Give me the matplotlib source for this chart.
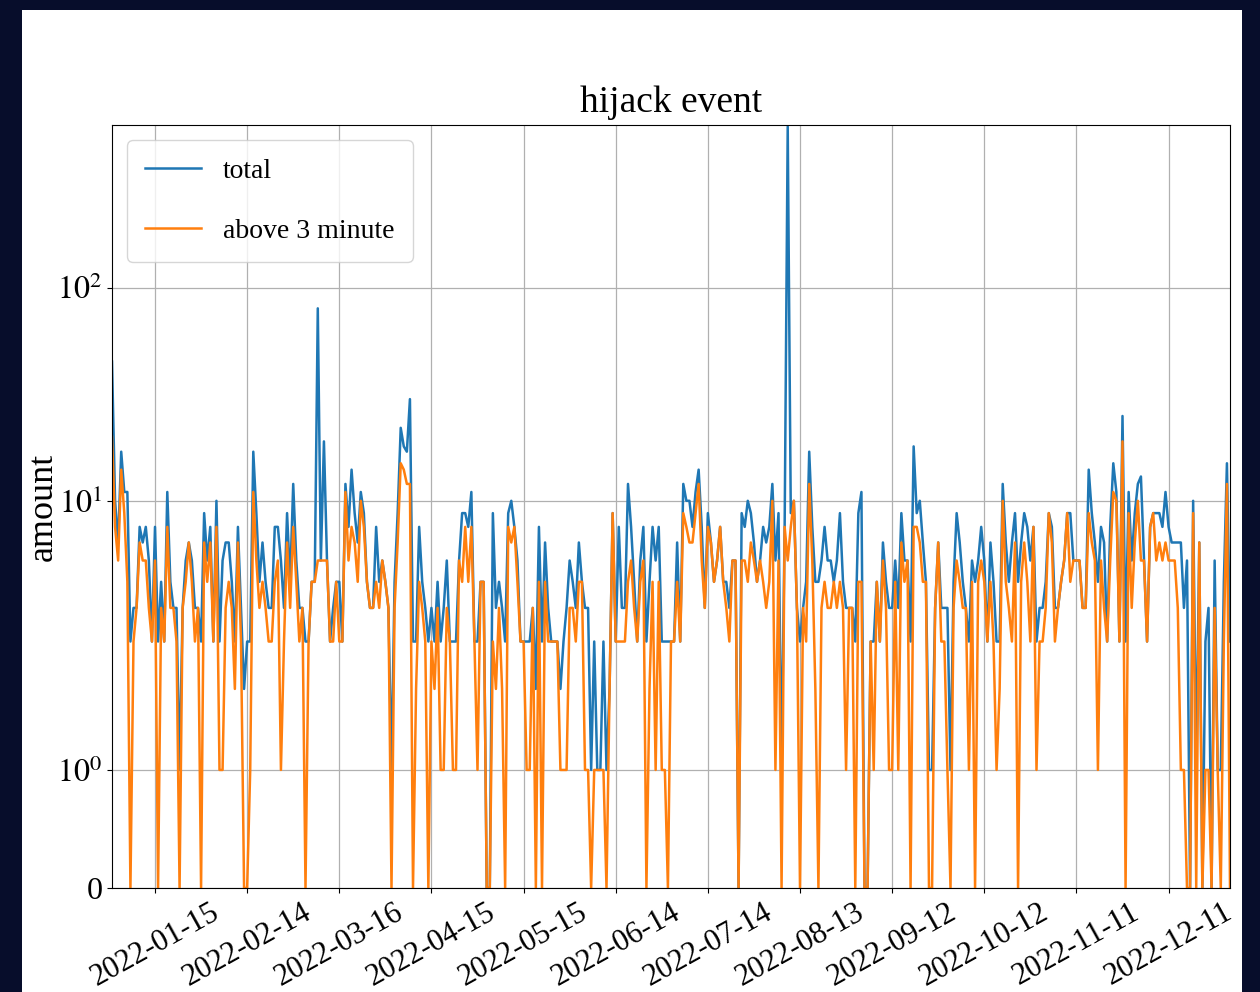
import numpy as np
import pandas as pd
import matplotlib
matplotlib.use("Agg")
import matplotlib.pyplot as plt
import matplotlib.dates as mdates
from matplotlib.patches import Rectangle
from matplotlib.ticker import NullLocator, FixedLocator, FixedFormatter

plt.rcParams["font.family"] = ["Liberation Serif", "DejaVu Serif"]
plt.rcParams["mathtext.fontset"] = "stix"
plt.rcParams["font.size"] = 22

# daily hijack event counts for 2022
start_date = "2022-01-01"

total = [
    45, 10, 7, 17, 11, 11, 3, 4, 4, 8,
    7, 8, 6, 3, 8, 3, 5, 3, 11, 5,
    4, 4, 1, 4, 6, 7, 6, 4, 4, 3,
    9, 6, 8, 3, 10, 3, 6, 7, 7, 5,
    3, 8, 4, 2, 3, 3, 17, 9, 5, 7,
    5, 4, 4, 8, 8, 6, 4, 9, 5, 12,
    6, 4, 4, 3, 3, 5, 5, 80, 6, 19,
    6, 3, 4, 5, 5, 3, 12, 8, 14, 9,
    7, 11, 9, 5, 4, 4, 8, 5, 6, 5,
    4, 1, 5, 9, 22, 18, 17, 30, 3, 3,
    8, 5, 4, 3, 4, 3, 5, 3, 4, 6,
    3, 3, 3, 6, 9, 9, 8, 11, 3, 3,
    5, 5, 0, 0, 9, 4, 5, 4, 3, 9,
    10, 8, 6, 3, 3, 3, 3, 4, 2, 8,
    3, 7, 4, 3, 3, 3, 2, 3, 4, 6,
    5, 4, 7, 5, 4, 4, 1, 3, 1, 1,
    3, 1, 2, 9, 3, 8, 4, 4, 12, 8,
    5, 3, 6, 8, 3, 5, 8, 6, 8, 3,
    3, 3, 3, 3, 7, 3, 12, 10, 10, 8,
    11, 14, 8, 4, 9, 7, 5, 6, 8, 5,
    5, 4, 6, 6, 0, 9, 8, 10, 9, 7,
    5, 6, 8, 7, 8, 12, 6, 9, 1, 8,
    570, 9, 10, 4, 3, 4, 5, 17, 8, 5,
    5, 6, 8, 6, 6, 5, 6, 9, 5, 4,
    4, 4, 3, 9, 11, 0, 0, 3, 3, 5,
    3, 7, 5, 4, 4, 6, 4, 9, 6, 6,
    3, 18, 9, 10, 7, 5, 1, 1, 4, 7,
    4, 4, 4, 1, 5, 9, 7, 5, 4, 3,
    6, 5, 6, 8, 6, 3, 7, 5, 3, 3,
    12, 7, 5, 7, 9, 5, 7, 9, 8, 6,
    8, 3, 4, 4, 5, 9, 8, 4, 4, 5,
    6, 9, 9, 6, 6, 6, 4, 4, 14, 9,
    7, 5, 8, 7, 3, 8, 15, 11, 3, 25,
    3, 11, 6, 9, 12, 13, 6, 3, 8, 9,
    9, 9, 8, 11, 8, 7, 7, 7, 7, 4,
    6, 0, 10, 1, 7, 0, 3, 4, 0, 6,
    1, 1, 5, 15, 3,
]

above_3_minute = [
    20, 8, 6, 14, 9, 5, 0, 3, 4, 7,
    6, 6, 4, 3, 6, 0, 4, 3, 8, 4,
    4, 3, 0, 4, 5, 7, 5, 3, 4, 0,
    7, 5, 7, 3, 8, 1, 1, 4, 5, 4,
    2, 7, 3, 0, 0, 1, 11, 6, 4, 5,
    4, 3, 3, 5, 6, 1, 3, 7, 4, 8,
    5, 3, 4, 0, 3, 5, 5, 6, 6, 6,
    6, 3, 3, 5, 3, 3, 11, 6, 8, 7,
    5, 10, 8, 5, 4, 4, 5, 4, 6, 5,
    4, 0, 4, 7, 15, 14, 12, 12, 0, 2,
    5, 4, 3, 0, 3, 2, 4, 1, 1, 4,
    3, 1, 1, 6, 5, 8, 5, 8, 3, 1,
    5, 5, 0, 0, 3, 2, 4, 2, 0, 8,
    7, 8, 5, 3, 3, 1, 1, 4, 0, 5,
    0, 5, 3, 3, 3, 3, 1, 1, 1, 4,
    4, 3, 5, 5, 1, 1, 0, 1, 1, 1,
    1, 0, 2, 9, 3, 3, 3, 3, 5, 6,
    4, 3, 5, 6, 0, 2, 5, 1, 5, 1,
    1, 0, 3, 3, 5, 3, 9, 8, 7, 7,
    9, 12, 6, 4, 8, 7, 5, 6, 8, 5,
    4, 3, 6, 6, 0, 6, 6, 5, 7, 6,
    5, 6, 5, 4, 5, 10, 1, 6, 0, 8,
    6, 8, 10, 4, 0, 4, 3, 12, 6, 2,
    0, 4, 5, 4, 4, 5, 4, 5, 4, 1,
    4, 4, 0, 5, 5, 0, 0, 3, 1, 5,
    3, 6, 4, 1, 1, 5, 1, 7, 5, 6,
    0, 8, 8, 7, 5, 5, 0, 0, 4, 7,
    3, 3, 1, 0, 4, 6, 5, 4, 4, 1,
    5, 0, 5, 6, 5, 3, 5, 3, 1, 2,
    10, 5, 4, 3, 7, 0, 5, 7, 5, 3,
    8, 1, 3, 3, 4, 9, 7, 3, 4, 5,
    6, 9, 5, 6, 6, 6, 4, 4, 9, 7,
    6, 1, 6, 4, 3, 6, 11, 10, 3, 19,
    0, 9, 4, 7, 10, 6, 6, 3, 8, 9,
    6, 7, 6, 7, 6, 6, 6, 4, 1, 1,
    0, 0, 9, 0, 7, 0, 1, 1, 0, 4,
    1, 0, 3, 12, 0,
]

tick_dates = ["2022-01-15", "2022-02-14", "2022-03-16", "2022-04-15",
              "2022-05-15", "2022-06-14", "2022-07-14", "2022-08-13",
              "2022-09-12", "2022-10-12", "2022-11-11", "2022-12-11"]
y_ticks = [0, 1, 10, 100]
y_tick_labels = ["0", r"$10^0$", r"$10^1$", r"$10^2$"]

dates = pd.date_range(start_date, periods=len(total), freq="D")

# piecewise axis: linear 0..1, then logarithmic decades
A0 = 118.0 / 269.0
K = 213.0 / 269.0


def fwd(v):
    v = np.asarray(v, dtype=float)
    lo = v * A0
    mid = A0 + np.log10(np.clip(v, 1.0, 10.0))
    hi = A0 + 1.0 + K * np.log10(np.maximum(v, 10.0) / 10.0)
    return np.where(v <= 1.0, lo, np.where(v <= 10.0, mid, hi))


def inv(t):
    t = np.asarray(t, dtype=float)
    lo = t / A0
    mid = 10.0 ** np.clip(t - A0, 0.0, 1.0)
    hi = 10.0 * 10.0 ** (np.maximum(t - A0 - 1.0, 0.0) / K)
    return np.where(t <= A0, lo, np.where(t <= A0 + 1.0, mid, hi))


fig = plt.figure(figsize=(12.6, 9.92), dpi=100)
fig.patch.set_facecolor("#070d2b")
fig.add_artist(Rectangle((22 / 1260, 0), (1242 - 22) / 1260, (992 - 10) / 992,
                         transform=fig.transFigure, facecolor="white",
                         edgecolor="none", zorder=-10))

ax = fig.add_axes([112 / 1260, 1 - 888 / 992, (1230 - 112) / 1260, (888 - 125) / 992])
ax.plot(dates, total, color="#1f77b4", lw=1.8, label="total")
ax.plot(dates, above_3_minute, color="#ff7f0e", lw=1.8, label="above 3 minute")

ax.set_yscale("function", functions=(fwd, inv))
ax.set_ylim(0, 580)
ax.yaxis.set_major_locator(FixedLocator(y_ticks))
ax.yaxis.set_major_formatter(FixedFormatter(y_tick_labels))
ax.yaxis.set_minor_locator(NullLocator())
ax.tick_params(axis="y", labelsize=23)

ax.set_xlim(dates[0], dates[-1])
ax.set_xticks(pd.to_datetime(tick_dates))
ax.xaxis.set_major_formatter(mdates.DateFormatter("%Y-%m-%d"))
ax.xaxis.set_minor_locator(NullLocator())
for lbl in ax.get_xticklabels():
    lbl.set_rotation(29)
    lbl.set_ha("center")

ax.grid(True, color="#b0b0b0", lw=0.9)
ax.set_ylabel("amount", fontsize=26, labelpad=-2)
ax.set_title("hijack event", fontsize=27, pad=9)
ax.legend(loc="upper left", fontsize=20, labelspacing=1.25, borderpad=0.65,
          handlelength=2.0, handletextpad=0.8, borderaxespad=0.55)

fig.savefig("out.png", dpi=100, facecolor=fig.get_facecolor())
